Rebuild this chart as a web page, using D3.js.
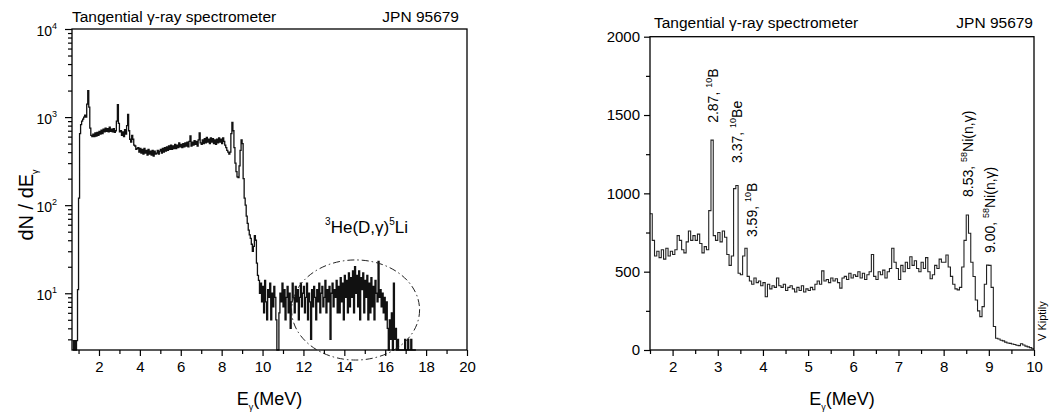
<!DOCTYPE html>
<html><head><meta charset="utf-8">
<script src="https://cdn.jsdelivr.net/npm/d3@7"></script>
<style>
body{margin:0;background:#fff;}
svg text{font-family:"Liberation Sans",Arial,Helvetica,sans-serif;fill:#000;}
</style></head>
<body><svg id="c" width="1052" height="412"></svg>
<script>
// ---------------- DATA ----------------
const binWidth = 0.05;            // MeV per channel
const leftStartE = 0.70;          // first bin edge, left spectrum
// dN/dE (log panel), rows of 10 bins = 0.5 MeV, starting 0.70 MeV
const leftCounts = [
  2.9,1,2.9,1,2.9,11,120,650,820,900,          // 0.70
  950,1000,1050,1000,1400,2000,1300,750,620,600, // 1.20
  640,600,660,610,670,620,690,640,710,650,     // 1.70
  730,680,750,690,740,680,770,690,730,680,     // 2.20
  740,670,700,900,1380,850,680,700,620,680,    // 2.70
  600,720,640,800,1070,700,560,520,620,560,    // 3.20
  480,470,430,440,450,400,440,390,430,380,     // 3.70
  440,390,420,370,430,380,410,370,420,360,     // 4.20
  410,380,390,420,380,410,430,390,440,400,     // 4.70
  450,410,460,420,470,430,480,430,470,440,     // 5.20
  490,440,480,450,510,460,490,450,500,460,     // 5.70
  510,470,520,460,530,610,470,520,480,540,     // 6.20
  490,530,470,550,660,510,490,550,500,570,     // 6.70
  510,590,520,560,500,580,520,570,500,550,     // 7.20
  490,560,510,580,520,560,500,580,530,480,     // 7.70
  450,420,400,380,400,650,870,700,450,300,     // 8.20
  240,210,205,280,420,550,500,200,120,100,     // 8.70
  75,62,52,46,42,36,30,34,45,40,               // 9.20
  22,16,14,10,13,8,12,6,14,8,                  // 9.70
  5,11,9,13,5,10,7,12,9,5,                     // 10.20
  0,0,6,10,8,13,7,11,5,9,                      // 10.70
  12,6,10,4,8,13,9,6,12,8,                     // 11.20
  11,5,9,13,7,10,12,6,9,13,                    // 11.70
  5,10,8,3,11,7,12,9,5,11,                     // 12.20
  8,13,6,10,12,7,9,14,6,11,                    // 12.70
  8,12,3,10,13,7,11,9,14,6,                    // 13.20
  12,6,15,8,13,5,16,9,14,6,                    // 13.70
  17,7,15,9,18,6,20,10,16,7,                   // 14.20
  18,5,15,11,17,6,14,9,16,5,                   // 14.70
  13,6,15,7,12,5,14,10,8,23,                   // 15.20
  9,11,7,10,6,9,5,8,4,0,                       // 15.70
  5,3,6,0,13,3,4,0,3,0,                        // 16.20
  0,0,0,0,0,3,0,0,3,0,                         // 16.70
  0,3,0,0,0,0                                  // 17.20
];
const rightStartE = 1.50;
// counts (linear panel), rows of 10 bins starting 1.50 MeV
const rightCounts = [
  870,700,600,630,590,640,580,650,600,630,     // 1.50
  610,640,730,700,640,620,690,760,700,730,     // 2.00
  700,740,680,620,660,640,890,1340,730,700,    // 2.50
  750,690,760,720,610,540,600,1030,1050,490,   // 3.00
  480,600,650,470,440,420,460,430,440,410,     // 3.50
  430,340,420,390,410,400,460,410,400,420,     // 4.00
  380,400,410,390,370,400,380,410,370,390,     // 4.50
  380,400,385,420,440,420,505,440,450,430,     // 5.00
  460,440,455,430,395,460,470,450,490,460,     // 5.50
  480,470,500,460,490,450,480,500,610,470,     // 6.00
  450,500,480,510,460,500,520,650,560,520,     // 6.50
  450,540,500,560,520,595,540,570,520,500,     // 7.00
  560,520,590,500,455,480,540,520,580,560,     // 7.50
  560,606,530,470,420,390,384,400,530,700,     // 8.00
  862,745,560,469,319,250,213,277,420,542,     // 8.50
  540,400,150,75,70,62,58,50,45,42,            // 9.00
  38,35,30,28,40,32,25,20,15,8                 // 9.50
];
const leftXTicks = [2,4,6,8,10,12,14,16,18,20];
const leftXMinor = [1,3,5,7,9,11,13,15,17,19];
const leftYTicks = [10,100,1000,10000];
const rightXTicks = [2,3,4,5,6,7,8,9,10];
const rightXMinor = [1.5,2.5,3.5,4.5,5.5,6.5,7.5,8.5,9.5];
const rightYTicks = [0,500,1000,1500,2000];
const rightYMinor = [250,750,1250,1750];
const titleText = "Tangential γ-ray spectrometer";
const pulseText = "JPN 95679";
// peak annotations: text position in data coords of the right panel
const peakLabels = [
  {num:"2.87, ", iso:"10", el:"B",        e:3.00, v:1450},
  {num:"3.37, ", iso:"10", el:"Be",       e:3.53, v:1194},
  {num:"3.59, ", iso:"10", el:"B",        e:3.87, v:721},
  {num:"8.53, ", iso:"58", el:"Ni(n,γ)",  e:8.65, v:977},
  {num:"9.00, ", iso:"58", el:"Ni(n,γ)",  e:9.14, v:619}
];
const reactionLabel = {pre:"3", a:"He(D,γ)", sup:"5", b:"Li", e:13.06, v:48};
const regionEllipse = {e:14.55, v:6.46, halfWidthE:3.13, topV:23.9};

// ---------------- DRAW ----------------
const svg = d3.select("#c");
const FONT = 15;

function stepPoints(start, counts){
  const pts = counts.map((c,i)=>[start + i*binWidth, c]);
  pts.push([start + counts.length*binWidth, counts[counts.length-1]]);
  return pts;
}

// ===== Left panel (log) =====
const L = {x0:72, x1:467, y0:29, y1:350};
const xL = d3.scaleLinear().domain([0.68, 20]).range([L.x0, L.x1]);
const yL = d3.scaleLog().domain([2.27, 1e4]).range([L.y1, L.y0]).clamp(true);
const gL = svg.append("g");

const lineL = d3.line()
  .x(d=>xL(d[0]))
  .y(d=>yL(Math.max(d[1], 1e-3)))
  .curve(d3.curveStepAfter);
gL.append("path").datum(stepPoints(leftStartE, leftCounts))
  .attr("d", lineL).attr("fill","none").attr("stroke","#111").attr("stroke-width",1.3);

// ellipse
const ex = xL(regionEllipse.e), ey = yL(regionEllipse.v);
gL.append("ellipse")
  .attr("cx", ex).attr("cy", ey)
  .attr("rx", xL(regionEllipse.e + regionEllipse.halfWidthE) - ex)
  .attr("ry", ey - yL(regionEllipse.topV))
  .attr("fill","none").attr("stroke","#222").attr("stroke-width",1)
  .attr("stroke-dasharray","7,3,1.5,3");

// frame
gL.append("rect").attr("x",L.x0).attr("y",L.y0).attr("width",L.x1-L.x0).attr("height",L.y1-L.y0)
  .attr("fill","none").attr("stroke","#000").attr("stroke-width",1.3);

// x axis
gL.append("g").attr("transform",`translate(0,${L.y1})`)
  .call(d3.axisBottom(xL).tickValues(leftXTicks).tickSize(6).tickPadding(5).tickFormat(d3.format("d")));
gL.append("g").attr("transform",`translate(0,${L.y1})`)
  .call(d3.axisBottom(xL).tickValues(leftXMinor).tickSize(4).tickFormat(""));
// y axis
const minorLog = yL.ticks().filter(t => Math.abs(Math.log10(t) - Math.round(Math.log10(t))) > 1e-6);
gL.append("g").attr("transform",`translate(${L.x0},0)`)
  .call(d3.axisLeft(yL).tickValues(minorLog).tickSize(4).tickFormat(""));
const axLy = gL.append("g").attr("transform",`translate(${L.x0},0)`)
  .call(d3.axisLeft(yL).tickValues(leftYTicks).tickSize(7).tickPadding(8).tickFormat(""));
axLy.selectAll(".tick text").each(function(d){
  const t = d3.select(this);
  t.attr("dy", null).attr("y", 6);
  t.append("tspan").attr("font-size",14).text("10");
  t.append("tspan").attr("font-size",9).attr("dy",-7).text(Math.round(Math.log10(d)));
});

// ===== Right panel (linear) =====
const R = {x0:650, x1:1034, y0:36.7, y1:350};
const xR = d3.scaleLinear().domain([1.5, 10]).range([R.x0, R.x1]);
const yR = d3.scaleLinear().domain([0, 2000]).range([R.y1, R.y0]);
const gR = svg.append("g");
const lineR = d3.line().x(d=>xR(d[0])).y(d=>yR(d[1])).curve(d3.curveStepAfter);
gR.append("path").datum(stepPoints(rightStartE, rightCounts))
  .attr("d", lineR).attr("fill","none").attr("stroke","#222").attr("stroke-width",1.1);
gR.append("rect").attr("x",R.x0).attr("y",R.y0).attr("width",R.x1-R.x0).attr("height",R.y1-R.y0)
  .attr("fill","none").attr("stroke","#000").attr("stroke-width",1.3);
gR.append("g").attr("transform",`translate(0,${R.y1})`)
  .call(d3.axisBottom(xR).tickValues(rightXTicks).tickSize(6).tickPadding(5).tickFormat(d3.format("d")));
gR.append("g").attr("transform",`translate(0,${R.y1})`)
  .call(d3.axisBottom(xR).tickValues(rightXMinor).tickSize(4).tickFormat(""));
gR.append("g").attr("transform",`translate(${R.x0},0)`)
  .call(d3.axisLeft(yR).tickValues(rightYTicks).tickSize(6).tickPadding(4).tickFormat(d3.format("d")));
gR.append("g").attr("transform",`translate(${R.x0},0)`)
  .call(d3.axisLeft(yR).tickValues(rightYMinor).tickSize(4).tickFormat(""));

// common axis styling
svg.selectAll(".domain").remove();
svg.selectAll(".tick line").attr("stroke","#000").attr("stroke-width",1.2);
svg.selectAll(".tick text").attr("font-family",null).attr("font-size",FONT).attr("fill","#000");

// peak labels
peakLabels.forEach(p=>{
  const t = gR.append("text")
    .attr("transform",`translate(${xR(p.e)},${yR(p.v)}) rotate(-90)`)
    .attr("font-size",14);
  t.append("tspan").text(p.num);
  t.append("tspan").attr("font-size",9).attr("dy",-6).text(p.iso);
  t.append("tspan").attr("dy",6).text(p.el);
});

// reaction label
{
  const t = gL.append("text").attr("x", xL(reactionLabel.e)).attr("y", yL(reactionLabel.v)).attr("font-size",17);
  t.append("tspan").attr("font-size",10).attr("dy",-8).text(reactionLabel.pre);
  t.append("tspan").attr("dy",8).text(reactionLabel.a);
  t.append("tspan").attr("font-size",10).attr("dy",-8).text(reactionLabel.sup);
  t.append("tspan").attr("dy",8).text(reactionLabel.b);
}

// titles
[[L,21.7,-8,72],[R,28.3,-1,654]].forEach(([P,by,dr,lx])=>{
  svg.append("text").attr("x",lx).attr("y",by).attr("font-size",15.5).text(titleText);
  svg.append("text").attr("x",P.x1+dr).attr("y",by).attr("font-size",15.5).attr("text-anchor","end").text(pulseText);
});

// x-axis labels
[L,R].forEach(P=>{
  const t = svg.append("text").attr("x",(P.x0+P.x1)/2).attr("y",405).attr("text-anchor","middle").attr("font-size",18);
  t.append("tspan").text("E");
  t.append("tspan").attr("font-size",9).attr("dy",5).text("γ");
  t.append("tspan").attr("dy",-5).text("(MeV)");
});

// y-axis label (left)
{
  const t = svg.append("text").attr("transform","translate(33,205) rotate(-90)")
    .attr("text-anchor","middle").attr("font-size",20);
  t.append("tspan").text("dN / dE");
  t.append("tspan").attr("font-size",9).attr("dy",5).text("γ");
}
// author credit
svg.append("text").attr("transform",`translate(1046,341) rotate(-90)`).attr("font-size",11).text("V Kiptily");
</script>
</body></html>
